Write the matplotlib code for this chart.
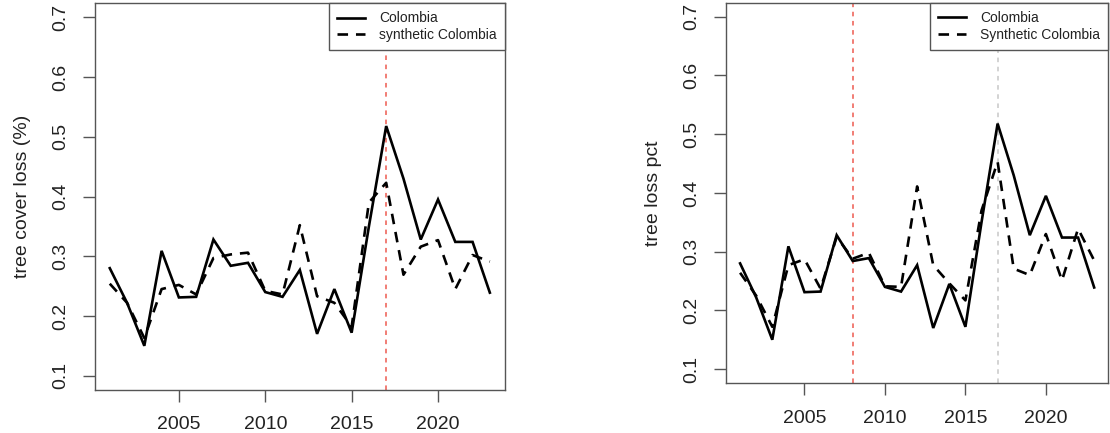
import matplotlib
matplotlib.use("Agg")
import matplotlib.pyplot as plt

years = list(range(2001, 2024))
colombia = [0.280, 0.222, 0.150, 0.309, 0.231, 0.232, 0.328, 0.284, 0.289, 0.240,
            0.232, 0.277, 0.170, 0.245, 0.172, 0.350, 0.518, 0.430, 0.328, 0.395,
            0.324, 0.324, 0.239]
synthetic_left = [0.254, 0.222, 0.163, 0.245, 0.252, 0.236, 0.297, 0.303, 0.306, 0.242,
                  0.236, 0.352, 0.233, 0.222, 0.182, 0.390, 0.423, 0.269, 0.316, 0.327,
                  0.245, 0.302, 0.291]
synthetic_right = [0.264, 0.225, 0.172, 0.277, 0.287, 0.237, 0.325, 0.288, 0.298, 0.241,
                   0.240, 0.411, 0.277, 0.246, 0.217, 0.370, 0.453, 0.271, 0.260, 0.330,
                   0.251, 0.339, 0.285]
xticks = [2005, 2010, 2015, 2020]
yticks = [0.1, 0.2, 0.3, 0.4, 0.5, 0.6, 0.7]
ylabels = ["tree cover loss (%)", "tree loss pct"]
legend_labels = [["Colombia", "synthetic Colombia"], ["Colombia", "Synthetic Colombia"]]

plt.rcParams['font.family'] = ['Liberation Sans', 'DejaVu Sans']

fig = plt.figure(figsize=(11.1, 4.33), dpi=100)
axL = fig.add_axes([0.0852, 0.0993, 0.455 - 0.0852, 0.993 - 0.0993])
axR = fig.add_axes([0.654, 0.115, 0.9985 - 0.654, 0.994 - 0.115])

red = '#ee5a4f'
grey_box = '#555555'
txt = '#222222'

def style(ax, ylabel, labels, series):
    ax.plot(years, colombia, color='black', lw=1.9, solid_joinstyle='miter')
    ax.plot(years, series, color='black', lw=1.9, linestyle=(0, (4, 3)))
    ax.set_xlim(2000.12, 2023.88)
    ax.set_ylim(0.076, 0.724)
    ax.set_xticks(xticks)
    ax.set_yticks(yticks)
    ax.set_yticklabels([f"{v:.1f}" for v in yticks])
    for s in ax.spines.values():
        s.set_color(grey_box)
        s.set_linewidth(1.0)
    ax.tick_params(axis='both', colors=grey_box, labelcolor=txt, length=8.5,
                   width=1.0, labelsize=14)
    ax.tick_params(axis='x', pad=10.5)
    ax.tick_params(axis='y', pad=10, labelrotation=90)
    for lab in ax.get_yticklabels():
        lab.set_verticalalignment('center')
    ax.set_ylabel(ylabel, fontsize=14, color=txt, labelpad=15)
    leg = ax.legend(labels, loc='upper right', fontsize=10, frameon=True,
                    fancybox=False, framealpha=1, edgecolor=grey_box,
                    borderaxespad=0, handlelength=2.0, labelspacing=0.2,
                    borderpad=0.6, handletextpad=1.0)
    leg.get_frame().set_linewidth(1.0)
    for t in leg.get_texts():
        t.set_color(txt)

style(axL, ylabels[0], legend_labels[0], synthetic_left)
axL.axvline(2017, color=red, lw=1.1, linestyle=(0, (3, 3)), zorder=0)

style(axR, ylabels[1], legend_labels[1], synthetic_right)
axR.axvline(2008, color=red, lw=1.1, linestyle=(0, (3, 3)), zorder=0)
axR.axvline(2017, color='#c8c8c8', lw=1.1, linestyle=(0, (3, 3)), zorder=0)

fig.savefig('out.png', dpi=100)
